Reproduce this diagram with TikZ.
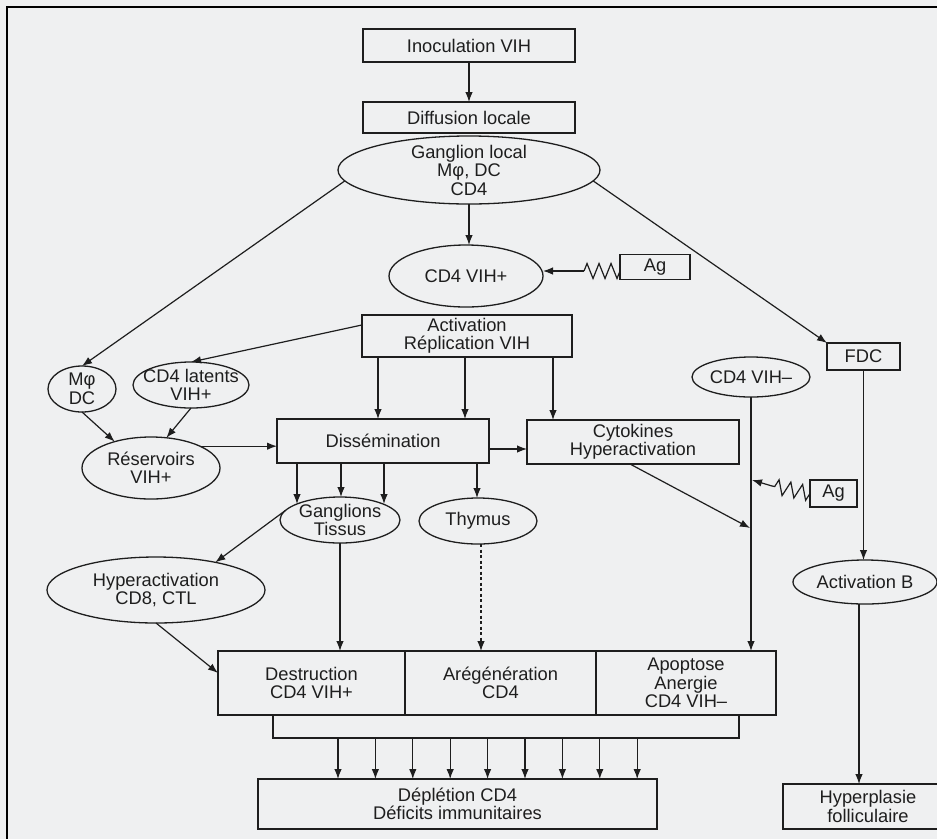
\documentclass[tikz,border=0pt]{standalone}
\usepackage{fontspec}
\setmainfont{Liberation Sans}
\usetikzlibrary{shapes.geometric, arrows.meta, decorations.pathmorphing, calc}

\definecolor{paper}{HTML}{EFF0F1}
\definecolor{ink}{HTML}{1E1E1E}

\begin{document}
\begin{tikzpicture}[x=1pt, y=-1pt,
  every node/.style={font=\fontsize{18.3}{18.5}\selectfont, text=ink, align=center,
                     inner sep=0pt, outer sep=0pt},
  box/.style={draw=ink, line width=1.3pt, rectangle},
  oval/.style={draw=ink, line width=1.3pt, ellipse, inner sep=-60pt},
  arr/.style={draw=ink, line width=1.2pt, -{Latex[length=10pt,width=7.5pt]}},
  link/.style={draw=ink, line width=1.2pt},
  spring/.style={draw=ink, line width=1.2pt, decorate,
                 decoration={zigzag, segment length=12pt, amplitude=7.5pt}}
]
% page and frame
\fill[paper] (0,0) rectangle (937,839);
\useasboundingbox (0,0) rectangle (937,839);
\draw[line width=2.6pt, black] (937,7) -- (7,7) -- (7,839);

% nodes
\node[box, minimum width=212pt, minimum height=33pt] (inoc) at (469,45.5) {Inoculation VIH};
\node[box, minimum width=212pt, minimum height=31pt] (diff) at (469,117.5) {Diffusion locale};
\node[oval, minimum width=262pt, minimum height=68pt] (gl) at (469,170) {Ganglion local\\Mφ, DC\\CD4};
\node[oval, minimum width=154pt, minimum height=62pt] (cd4p) at (466,276) {CD4 VIH+};
\node[box, minimum width=70pt, minimum height=25pt] (ag1) at (655,267) {Ag};
\node[box, minimum width=210pt, minimum height=42pt] (act) at (467,336) {Activation\\Réplication VIH};
\node[oval, minimum width=68pt, minimum height=46pt] (mdc) at (82,389) {Mφ\\DC};
\node[oval, minimum width=116pt, minimum height=46pt] (cdlat) at (191,385) {CD4 latents\\VIH+};
\node[oval, minimum width=138pt, minimum height=62pt] (res) at (151,468) {Réservoirs\\VIH+};
\node[box, minimum width=212pt, minimum height=44pt] (diss) at (383,441) {Dissémination};
\node[box, minimum width=212pt, minimum height=44pt] (cyto) at (633,442) {Cytokines\\Hyperactivation};
\node[box, minimum width=73pt, minimum height=27pt] (fdc) at (863.5,356.5) {FDC};
\node[oval, minimum width=118pt, minimum height=40pt] (cd4m) at (751,377) {CD4 VIH–};
\node[box, minimum width=47pt, minimum height=27pt] (ag2) at (833.5,493.5) {Ag};
\node[oval, minimum width=120pt, minimum height=46pt] (gang) at (340,520) {Ganglions\\Tissus};
\node[oval, minimum width=118pt, minimum height=46pt] (thy) at (478,521) {Thymus};
\node[oval, minimum width=218pt, minimum height=66pt] (hyper) at (156,590) {Hyperactivation\\CD8, CTL};
\node[box, minimum width=187pt, minimum height=64pt] (dest) at (311.5,683) {Destruction\\CD4 VIH+};
\node[box, minimum width=191pt, minimum height=64pt] (areg) at (500.5,683) {Arégénération\\CD4};
\node[box, minimum width=180pt, minimum height=64pt] (apop) at (686,683) {Apoptose\\Anergie\\CD4 VIH–};
\node[box, minimum width=399pt, minimum height=50pt] (depl) at (457.5,804) {Déplétion CD4\\Déficits immunitaires};
\node[oval, minimum width=144pt, minimum height=44pt] (actb) at (865,582) {Activation B};
\node[box, minimum width=170pt, minimum height=45pt] (hyperpl) at (868,806.5) {Hyperplasie\\folliculaire};

% free ends of connectors
\coordinate (z1) at (584,271);
\coordinate (z2) at (772,486);
\coordinate (j1) at (750,528);
\coordinate (j2) at (752,480);
\coordinate (bar) at (500,738);
\coordinate (a0) at (338,738);

% main chain
\draw[arr] (inoc) -- (diff);
\draw[arr] (gl.south) -- (gl.south |- cd4p.north);
\draw[arr] (gl.185) -- (mdc.north);
\draw[arr] (gl.-5) -- (fdc.north west);

% antigen stimulation
\draw[spring] ([yshift=-4pt]ag1.west) -- (z1);
\draw[arr] (z1) -- (z1 -| cd4p.east);
\draw[spring] (ag2.west) -- (z2);
\draw[arr] (z2) -- (j2);

% activation and dissemination
\draw[arr] (act.174) -- (cdlat.north);
\draw[arr] ([xshift=-89pt]act.south) -- ([xshift=-5pt]diss.north);
\draw[arr] ([xshift=-2pt]act.south) -- ([xshift=82pt]diss.north);
\draw[arr] ([xshift=86pt]act.south) -- ([xshift=-80pt]cyto.north);
\draw[arr] (mdc.south) -- (res.144);
\draw[arr] (cdlat.south) -- (res.63);
\draw[arr] (res.24) -- (res.24 -| diss.west);
\draw[arr] ([yshift=-8pt]diss.east) -- ([yshift=-8pt]diss.east -| cyto.west);
\draw[arr] ([xshift=-86pt]diss.south) -- ([xshift=-43pt,yshift=16pt]gang.center);
\draw[arr] ([xshift=-42pt]diss.south) -- ([xshift=1pt,yshift=23pt]gang.center);
\draw[arr] ([xshift=1pt]diss.south) -- ([xshift=44pt,yshift=16pt]gang.center);
\draw[arr] ([xshift=94pt]diss.south) -- ([xshift=94pt]diss.south |- thy.north);

% effects on CD4 cells
\draw[arr] (gang.south) -- (gang.south |- dest.north);
\draw[arr, dash pattern=on 3pt off 2.5pt] ([xshift=3pt]thy.south) -- ([xshift=3pt]thy.south |- areg.north);
\draw[arr] (gang.170) -- (hyper.25);
\draw[arr] (hyper.south) -- ([yshift=10pt]dest.west);
\draw[arr] (cd4m.south) -- (cd4m.south |- apop.north);
\draw[arr] ([xshift=-3pt]cyto.south) -- (j1);

% collecting bar towards depletion
\draw[link] ([xshift=-38.5pt]dest.south) |- (bar) -| ([xshift=53pt]apop.south);
\foreach \i in {0,...,8}
  \draw[arr] ([xshift=\i*37.4pt]a0) -- ([xshift=\i*37.4pt]a0 |- depl.north);

% B cell branch
\draw[arr] (fdc.south) -- (fdc.south |- actb.north);
\draw[arr] ([xshift=-6pt]actb.south) -- ([xshift=-6pt]actb.south |- hyperpl.north);
\end{tikzpicture}
\end{document}
